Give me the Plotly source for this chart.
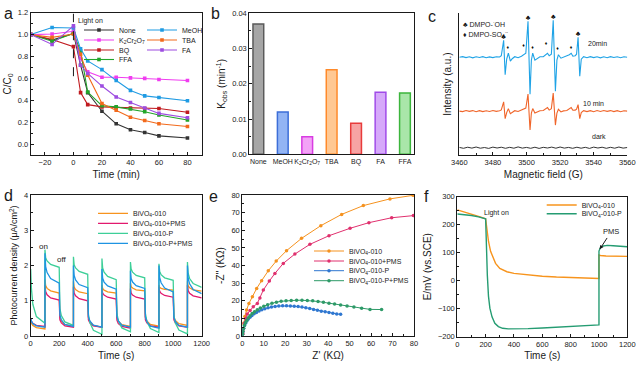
import plotly.graph_objects as go

W, H = 638, 369
FONT = "Arial, 'Liberation Sans', Helvetica, sans-serif"
INK = "#1a1a1a"

# ---------------- panel a : C/C0 vs time ----------------
a_time = [-30, -15, 0, 5, 10, 20, 30, 40, 50, 60, 80]
a_none = [1.0, 0.95, 1.01, 0.72, 0.47, 0.30, 0.185, 0.13, 0.105, 0.075, 0.055]
a_meoh = [1.0, 1.065, 1.06, 0.87, 0.76, 0.68, 0.58, 0.49, 0.44, 0.425, 0.395]
a_k2cr2o7 = [1.0, 1.005, 1.03, 0.78, 0.66, 0.61, 0.61, 0.605, 0.60, 0.59, 0.58]
a_bq = [1.0, 0.955, 0.89, 0.47, 0.36, 0.34, 0.335, 0.33, 0.325, 0.325, 0.29]
a_tba = [1.0, 0.975, 1.005, 0.82, 0.63, 0.37, 0.31, 0.245, 0.215, 0.185, 0.16]
a_fa = [1.0, 0.91, 1.08, 0.72, 0.645, 0.53, 0.43, 0.38, 0.33, 0.28, 0.24]
a_ffa = [1.0, 0.94, 1.01, 0.85, 0.475, 0.35, 0.34, 0.32, 0.295, 0.265, 0.22]

# ---------------- panel b : rate constants ----------------
b_labels = ["None", "MeOH", "K<sub>2</sub>Cr<sub>2</sub>O<sub>7</sub>", "TBA", "BQ", "FA", "FFA"]
b_kobs = [0.037, 0.012, 0.005, 0.024, 0.0088, 0.0176, 0.0174]

# ---------------- panel c : EPR spectra ----------------
c_field = [3460, 3462, 3464, 3466, 3468, 3470, 3472, 3474, 3476, 3478, 3480, 3482, 3484, 3485,
           3486.4, 3487.3, 3488.2, 3489.2, 3490.4, 3491.5, 3493, 3495, 3497, 3498.5, 3499.6,
           3500.9, 3502.1, 3502.9, 3503.7, 3505, 3506.5, 3508, 3510, 3511.5, 3512.5, 3513.5,
           3514.8, 3515.9, 3517.2, 3518.1, 3519, 3520.5, 3522, 3524, 3525.5, 3526.6, 3527.6,
           3529, 3529.8, 3530.7, 3531.7, 3532.6, 3534, 3536, 3538, 3540, 3542, 3544, 3546,
           3548, 3550, 3552, 3554, 3556, 3558, 3560]
c_20min = [0, 0.6, -0.4, 0.5, -0.6, 0.4, -0.3, 0.6, -0.5, 0.3, -0.4, 0.5, 0.2, 1.5, 17, -17.5,
           -2, 4, -4, -1.5, 0.5, -0.5, 1, 2.5, 4, 36, -37, -3, 4, -3, -1, 0.5, 0.5, 3, 4, 1.5, 3,
           37, -34, -3, 2.5, -1, 0, 0.8, 2.5, 4, 1, 1.5, 3, 20, -19, -2, 0.5, -0.5, 0.6, -0.4,
           0.5, -0.6, 0.4, -0.5, 0.6, -0.3, 0.5, -0.5, 0.4, 0]
c_10min = [0, -0.5, 0.6, -0.3, 0.5, -0.6, 0.4, -0.5, 0.3, -0.4, 0.6, -0.3, 0.4, 1.2, 9.3, -7.5,
           -1.5, 2.5, -2.5, -1, 0.4, -0.4, 0.8, 1.8, 3, 17, -19, -2, 2.5, -2, -0.8, 0.4, 0.6,
           2.5, 3.5, 1, 2.5, 18, -14, -2, 1.8, -0.8, 0.2, 0.6, 2, 3.5, 0.8, 1, 2, 6.5, -7.5,
           -1.5, 0.4, -0.5, 0.4, -0.6, 0.5, -0.4, 0.6, -0.3, 0.5, -0.5, 0.4, -0.6, 0.3, 0]
c_dark_field = [3460 + 2.5 * i for i in range(41)]
c_dark = [0.3, -0.6, 0.5, -0.4, 0.7, -0.5, 0.2, -0.7, 0.6, -0.3,
          0.5, -0.6, 0.4, -0.5, 0.8, -0.4, 0.3, -0.6, 0.5, -0.7,
          0.4, -0.3, 0.6, -0.5, 0.7, -0.4, 0.3, -0.6, 0.5, -0.5,
          0.4, -0.7, 0.6, -0.3, 0.5, -0.6, 0.4, -0.5, 0.7, -0.4, 0.2]
c_offsets = [98, 44, 7.3]          # vertical stacking of 20 min / 10 min / dark
c_oh_field = [3486.4, 3500.9, 3515.9, 3530.7]
c_oh_level = [20, 39.5, 40.5, 23]
c_so4_field = [3488.9, 3498.2, 3503.6, 3511.6, 3518.5, 3526.5]
c_so4_level = [9, 11.3, 9, 13, 8.3, 9.7]

# ---------------- panel d : transient photocurrent ----------------
d_samples = [0, 5, 15, 40, 100]                     # s inside each 100 s half period
d_starts = [0, 100, 200, 300, 400, 500, 600, 700, 800, 900, 1000, 1100]
d_010 = [[0.45, 0.36, 0.30, 0.24, 0.20], [1.60, 1.43, 1.35, 1.28, 1.22],
         [0.70, 0.53, 0.42, 0.32, 0.27], [1.55, 1.39, 1.32, 1.25, 1.20],
         [0.70, 0.52, 0.41, 0.30, 0.25], [1.45, 1.35, 1.30, 1.25, 1.22],
         [0.70, 0.53, 0.42, 0.32, 0.27], [1.50, 1.40, 1.36, 1.31, 1.28],
         [0.70, 0.53, 0.43, 0.33, 0.28], [1.45, 1.38, 1.35, 1.32, 1.30],
         [0.70, 0.54, 0.44, 0.35, 0.30], [1.55, 1.42, 1.37, 1.31, 1.27]]
d_010_pms = [[0.50, 0.42, 0.36, 0.30, 0.27], [1.45, 1.26, 1.17, 1.08, 1.02],
             [0.60, 0.46, 0.37, 0.29, 0.25], [1.40, 1.22, 1.14, 1.06, 1.00],
             [0.60, 0.46, 0.37, 0.29, 0.25], [1.35, 1.22, 1.16, 1.10, 1.05],
             [0.60, 0.45, 0.35, 0.27, 0.22], [1.35, 1.22, 1.16, 1.10, 1.05],
             [0.60, 0.46, 0.37, 0.29, 0.25], [1.40, 1.27, 1.21, 1.15, 1.10],
             [0.60, 0.46, 0.37, 0.29, 0.25], [1.45, 1.29, 1.21, 1.14, 1.08]]
d_010_p = [[1.90, 1.35, 0.90, 0.55, 0.36], [2.45, 2.22, 2.13, 2.03, 1.95],
           [1.10, 0.78, 0.58, 0.40, 0.30], [2.25, 2.02, 1.93, 1.83, 1.75],
           [1.00, 0.62, 0.38, 0.16, 0.05], [2.20, 1.93, 1.81, 1.69, 1.60],
           [1.00, 0.65, 0.43, 0.23, 0.12], [2.10, 1.90, 1.81, 1.72, 1.65],
           [1.00, 0.64, 0.42, 0.21, 0.10], [2.05, 1.84, 1.74, 1.65, 1.58],
           [0.95, 0.59, 0.37, 0.17, 0.06], [2.10, 1.78, 1.63, 1.49, 1.38]]
d_010_p_pms = [[0.50, 0.42, 0.35, 0.29, 0.25], [2.35, 1.97, 1.80, 1.63, 1.50],
               [0.80, 0.59, 0.46, 0.33, 0.27], [2.00, 1.72, 1.59, 1.46, 1.37],
               [0.75, 0.55, 0.43, 0.31, 0.25], [1.90, 1.64, 1.53, 1.42, 1.33],
               [0.75, 0.55, 0.43, 0.31, 0.25], [1.85, 1.63, 1.53, 1.43, 1.35],
               [0.75, 0.54, 0.41, 0.28, 0.22], [2.00, 1.66, 1.51, 1.36, 1.25],
               [0.70, 0.52, 0.41, 0.30, 0.25], [2.00, 1.64, 1.48, 1.32, 1.20]]

# ---------------- panel e : Nyquist plots ----------------
e_010_re = [0.1, 0.3, 0.6, 1.2, 2.0, 3.1, 4.7, 6.7, 9.0, 12.1, 15.8, 20.6, 27.6, 36.6, 46.3, 56.4, 68.8, 79.5]
e_010_im = [1.0, 3.4, 7.2, 11.0, 14.8, 18.5, 22.3, 27.0, 31.4, 37.0, 42.5, 48.4, 55.4, 62.6, 69.0, 74.0, 77.8, 79.8]
e_010_pms_re = [0.2, 0.5, 0.9, 1.6, 2.3, 3.6, 5.1, 7.0, 8.2, 9.8, 12.6, 15.2, 19.1, 24.5, 31.5, 40.4, 50.2, 59.0, 69.6, 79.7]
e_010_pms_im = [1.5, 4.3, 7.2, 10.0, 12.5, 14.4, 16.6, 18.5, 21.5, 26.1, 31.2, 35.5, 41.2, 46.5, 52.0, 56.9, 61.1, 64.3, 67.1, 68.3]
e_010_p_re = [0.1, 0.3, 0.6, 1.0, 1.5, 2.1, 2.8, 3.6, 4.5, 5.5, 6.6, 7.8, 9.1, 10.5, 12.0, 13.6, 15.3, 17.0,
              18.8, 20.6, 22.4, 24.2, 26.0, 27.8, 29.6, 31.4, 33.2, 35.0, 36.8, 38.6, 40.4, 42.2, 44.0, 45.8]
e_010_p_im = [1.0, 2.5, 4.2, 5.8, 7.2, 8.5, 9.7, 10.7, 11.7, 12.6, 13.4, 14.2, 14.9, 15.5, 16.0, 16.4, 16.8, 17.0,
              17.1, 17.1, 17.0, 16.9, 16.7, 16.4, 16.0, 15.6, 15.1, 14.6, 14.1, 13.7, 13.3, 12.9, 12.5, 12.3]
e_010_p_pms_re = [0.1, 0.3, 0.6, 1.0, 1.5, 2.1, 2.8, 3.6, 4.6, 5.7, 7.0, 8.4, 10.0, 11.8, 13.8, 15.9, 18.1,
                  20.4, 22.8, 25.3, 27.8, 30.3, 32.8, 35.3, 37.8, 40.4, 43.0, 45.8, 48.8, 52.0, 55.6, 59.5, 64.9]
e_010_p_pms_im = [1.0, 2.6, 4.4, 6.1, 7.6, 9.0, 10.3, 11.5, 12.7, 13.8, 14.9, 15.9, 16.9, 17.8, 18.6, 19.2, 19.7,
                  20.0, 20.2, 20.3, 20.3, 20.2, 20.0, 19.6, 19.1, 18.6, 18.1, 17.6, 17.0, 16.4, 15.7, 15.1, 15.0]

# ---------------- panel f : open-circuit potential ----------------
f_010_t = [0, 50, 100, 150, 200, 210, 220, 235, 250, 270, 300, 350, 400, 500, 600, 700, 800, 900,
           1000, 1000, 1010, 1050, 1100, 1150, 1200]
f_010_e = [253, 246, 239, 230, 221, 175, 141, 105, 84, 62, 44, 32, 26, 20, 16, 13, 11, 9, 8, 92, 90,
           88, 87, 87, 87]
f_010p_t = [0, 50, 100, 150, 200, 203, 207, 212, 220, 230, 245, 265, 290, 320, 360, 420, 500, 600,
            700, 800, 900, 1000, 1000, 1010, 1030, 1060, 1100, 1150, 1200]
f_010p_e = [238, 236, 233, 228, 221, 170, 90, 20, -55, -98, -129, -152, -164, -170, -172, -172, -171,
            -169, -166, -163, -160, -158, 106, 118, 124, 126, 125, 123, 121]

BIV = ["BiVO<sub>4</sub>-010", "BiVO<sub>4</sub>-010+PMS", "BiVO<sub>4</sub>-010-P", "BiVO<sub>4</sub>-010-P+PMS"]

# ---------------- layout helpers ----------------
def dom_x(p0, p1):
    return [p0 / W, p1 / W]


def dom_y(top, bottom):
    return [1 - bottom / H, 1 - top / H]


def axis(domain, rng, dtick, title, anchor, minor=None, mirror=True, ticklabels=True,
         fmt=None, ticks="inside", title_size=10, standoff=4, tick_size=7.5, **kw):
    d = dict(domain=domain, range=rng, title=dict(text=title, font=dict(size=title_size), standoff=standoff),
             anchor=anchor, showline=True, linecolor=INK, linewidth=1, mirror=mirror, ticks=ticks,
             ticklen=3, tickwidth=1, tickcolor=INK, showgrid=False, zeroline=False,
             showticklabels=ticklabels, tickfont=dict(size=tick_size), automargin=False, tickangle=0)
    if dtick is not None:
        d.update(dtick=dtick, tick0=0)
    if minor is not None and ticks:
        d["minor"] = dict(dtick=minor, ticks="inside", ticklen=2, tickcolor=INK, tickwidth=1)
    if fmt:
        d["tickformat"] = fmt
    d.update(kw)
    return d


def legend_at(text_px, row_py):
    return dict(x=(text_px - 40) / W, y=1 - row_py / H, xanchor="left", yanchor="middle",
                bgcolor="rgba(0,0,0,0)", borderwidth=0, font=dict(size=7, color=INK),
                itemwidth=30, tracegroupgap=0)


fig = go.Figure()
legends = {}

# ---- a ----
a_series = [("None", a_none, "#333333", "legend", (119, 30)),
            ("K<sub>2</sub>Cr<sub>2</sub>O<sub>7</sub>", a_k2cr2o7, "#f03cf0", "legend2", (119, 40)),
            ("BQ", a_bq, "#c01a1f", "legend3", (119, 50)),
            ("FFA", a_ffa, "#22a52a", "legend4", (119, 59.5)),
            ("MeOH", a_meoh, "#1f9be3", "legend5", (182, 30)),
            ("TBA", a_tba, "#f26a1c", "legend6", (182, 40)),
            ("FA", a_fa, "#9d4de0", "legend7", (182, 50))]
for name, ys, col, lg, pos in a_series:
    fig.add_trace(go.Scatter(x=a_time, y=ys, name=name, mode="lines+markers", xaxis="x", yaxis="y",
                             line=dict(color=col, width=1.1), marker=dict(symbol="square", size=3.6, color=col),
                             legend=lg))
    legends[lg] = legend_at(*pos)

# ---- b ----
b_fill = ["#a6a6a6", "#92b4f4", "#f3a2f7", "#ffc893", "#f7a3a3", "#d6a9fa", "#a9e6a9"]
b_line = ["#5a5a5a", "#3c6ed8", "#d83ce2", "#ff8a2a", "#e83b3b", "#a04be8", "#3cb53c"]
fig.add_trace(go.Bar(x=list(range(len(b_kobs))), y=b_kobs, xaxis="x2", yaxis="y2", width=0.44,
                     marker=dict(color=b_fill, line=dict(color=b_line, width=1.5)), showlegend=False))

# ---- c ----
for vals, off, col in [(c_20min, c_offsets[0], "#1fa3e6"), (c_10min, c_offsets[1], "#f0652a")]:
    fig.add_trace(go.Scatter(x=c_field, y=[v + off for v in vals], mode="lines", xaxis="x3", yaxis="y3",
                             line=dict(color=col, width=1.1), showlegend=False))
fig.add_trace(go.Scatter(x=c_dark_field, y=[v + c_offsets[2] for v in c_dark], mode="lines",
                         xaxis="x3", yaxis="y3", line=dict(color="#333333", width=1), showlegend=False))
fig.add_trace(go.Scatter(x=c_oh_field, y=[v + c_offsets[0] for v in c_oh_level], mode="text", text=["♣"] * 4,
                         textfont=dict(size=7, color="#111"), xaxis="x3", yaxis="y3", showlegend=False))
fig.add_trace(go.Scatter(x=c_so4_field, y=[v + c_offsets[0] for v in c_so4_level], mode="text",
                         text=["♦"] * 6, textfont=dict(size=5, color="#111"), xaxis="x3", yaxis="y3",
                         showlegend=False))

# ---- d ----
d_time = [s + o for s in d_starts for o in d_samples]
d_sets = [(d_010, "#f7931e"), (d_010_pms, "#e2196e"), (d_010_p, "#3dcf98"), (d_010_p_pms, "#1e94e2")]
d_rows = [213.3, 223.3, 233.3, 243.3]
for i, (segs, col) in enumerate(d_sets):
    lg = "legend%d" % (8 + i)
    fig.add_trace(go.Scatter(x=d_time, y=[v for seg in segs for v in seg], name=BIV[i], mode="lines",
                             xaxis="x4", yaxis="y4", line=dict(color=col, width=1.3), legend=lg))
    legends[lg] = legend_at(133, d_rows[i])

# ---- e ----
e_sets = [(e_010_re, e_010_im, "#f5921f"), (e_010_pms_re, e_010_pms_im, "#e0306e"),
          (e_010_p_re, e_010_p_im, "#2f77d0"), (e_010_p_pms_re, e_010_p_pms_im, "#2e9a68")]
e_rows = [251, 261, 270.7, 280.7]
for i, (xr, yi, col) in enumerate(e_sets):
    lg = "legend%d" % (12 + i)
    fig.add_trace(go.Scatter(x=xr, y=yi, name=BIV[i], mode="lines+markers", xaxis="x5", yaxis="y5",
                             line=dict(color=col, width=1), marker=dict(size=3.5, color=col), legend=lg))
    legends[lg] = legend_at(349, e_rows[i])

# ---- f ----
for i, (tt, ee, col, name) in enumerate([(f_010_t, f_010_e, "#f7941d", BIV[0]),
                                         (f_010p_t, f_010p_e, "#259c72", BIV[2])]):
    lg = "legend%d" % (16 + i)
    fig.add_trace(go.Scatter(x=tt, y=ee, name=name, mode="lines", xaxis="x6", yaxis="y6",
                             line=dict(color=col, width=1.4), legend=lg))
    legends[lg] = legend_at(581.7, [205, 213.7][i])

# ---------------- axes ----------------
DA = dom_x(30.7, 201.7), dom_y(12.7, 155)
DB = dom_x(249.3, 414), dom_y(13.3, 154.3)
DC = dom_x(459.3, 627.3), dom_y(13.3, 155)
DD = dom_x(30.7, 201.7), dom_y(195, 336)
DE = dom_x(242.3, 414), dom_y(195, 336)
DF = dom_x(457.3, 627.3), dom_y(196.7, 336.7)

fig.update_layout(
    xaxis=axis(DA[0], [-30, 90], 20, "Time (min)", "y", minor=10),
    yaxis=axis(DA[1], [-0.1, 1.2], 0.2, "C/C<sub>0</sub>", "x", minor=0.1, fmt=".1f"),
    xaxis2=axis(DB[0], [-0.37, 6.37], None, "", "y2", ticks="", tickmode="array", tick_size=7,
                tickvals=list(range(len(b_labels))), ticktext=b_labels),
    yaxis2=axis(DB[1], [0, 0.04], 0.01, "K<sub>obs</sub> (min<sup>-1</sup>)", "x2", minor=0.005, fmt=".2f"),
    xaxis3=axis(DC[0], [3460, 3560], 20, "Magnetic field (G)", "y3", minor=10, mirror=False),
    yaxis3=axis(DC[1], [0, 142], None, "Intensity (a.u.)", "x3", mirror=False, ticklabels=False, ticks=""),
    xaxis4=axis(DD[0], [0, 1200], 200, "Time (s)", "y4", minor=100),
    yaxis4=axis(DD[1], [0, 4], 1, "Photocurrent density (μA/cm<sup>2</sup>)", "x4", minor=0.5, title_size=9),
    xaxis5=axis(DE[0], [0, 80], 10, "Z' (KΩ)", "y5", minor=5),
    yaxis5=axis(DE[1], [0, 80], 10, "-Z'' (KΩ)", "x5", minor=5),
    xaxis6=axis(DF[0], [0, 1200], 200, "Time (s)", "y6", minor=100),
    yaxis6=axis(DF[1], [-200, 300], 100, "E/mV (vs.SCE)", "x6", minor=50),
)

# ---------------- annotations & shapes ----------------
ann = []
for letter, px, py in [("a", 8, 14), ("b", 215, 14), ("c", 432, 16), ("d", 8, 195), ("e", 214, 196),
                       ("f", 426, 196)]:
    ann.append(dict(text=letter, x=px / W, y=1 - py / H, xref="paper", yref="paper", showarrow=False,
                    font=dict(size=16, color=INK), xanchor="center", yanchor="middle"))
ann += [
    dict(text="Light on", x=2, y=1.12, xref="x", yref="y", showarrow=False, xanchor="left",
         font=dict(size=7)),
    dict(text="♣ DMPO-<sup>·</sup>OH", x=3461, y=131, xref="x3", yref="y3", showarrow=False,
         xanchor="left", font=dict(size=7)),
    dict(text="♦ DMPO-SO<sub>4</sub><sup>·-</sup>", x=3461, y=121, xref="x3", yref="y3", showarrow=False,
         xanchor="left", font=dict(size=7)),
    dict(text="20min", x=3542, y=112, xref="x3", yref="y3", showarrow=False, font=dict(size=7)),
    dict(text="10 min", x=3540, y=52, xref="x3", yref="y3", showarrow=False, font=dict(size=7)),
    dict(text="dark", x=3543, y=18.5, xref="x3", yref="y3", showarrow=False, font=dict(size=7)),
    dict(text="on", x=88, y=2.53, xref="x4", yref="y4", showarrow=False, font=dict(size=8)),
    dict(text="off", x=217, y=2.16, xref="x4", yref="y4", showarrow=False, font=dict(size=8)),
    dict(text="Light on", x=279, y=241, xref="x6", yref="y6", showarrow=False, font=dict(size=7)),
    dict(text="PMS", x=1005, y=112, xref="x6", yref="y6", ax=1085, ay=174, axref="x6", ayref="y6",
         showarrow=True, arrowhead=2, arrowsize=0.8, arrowwidth=1, arrowcolor=INK, font=dict(size=7.5)),
]

fig.update_layout(
    width=W, height=H, margin=dict(l=0, r=0, t=0, b=0, pad=0, autoexpand=False),
    paper_bgcolor="white", plot_bgcolor="white",
    font=dict(family=FONT, color=INK, size=8),
    annotations=ann, showlegend=True, hovermode=False,
    shapes=[dict(type="line", xref="x", yref="y", x0=0, x1=0, y0=0.62, y1=1.19,
                 line=dict(color=INK, width=1, dash="dash"))],
    **legends,
)

fig.write_html("out.html", config={"displayModeBar": False, "staticPlot": True},
               post_script="document.body.style.margin='0';document.body.style.padding='0';")
